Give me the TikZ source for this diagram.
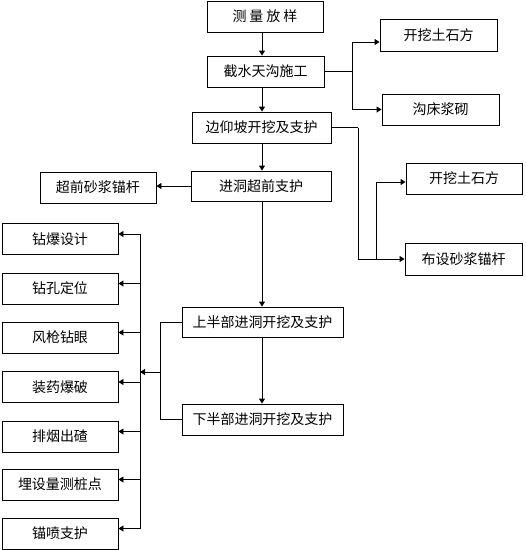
\documentclass[tikz,border=0pt]{standalone}
\usepackage{fontspec}
\setmainfont{Noto Sans CJK SC}
\usetikzlibrary{arrows.meta,calc}
\begin{document}
\begin{tikzpicture}[x=1pt,y=-1pt,
  box/.style={draw=black,line width=0.9pt,inner sep=0pt,align=center,
    font=\fontsize{14}{16}\selectfont},
  conn/.style={draw=black,line width=0.9pt},
  arr/.style={conn,-{Triangle[length=5pt,width=6pt]}}]
\useasboundingbox (0,0) rectangle (526,550);
\fill[white] (0,0) rectangle (526,550);
% main column
\node[box,minimum width=116pt,minimum height=31pt] (a) at (265,16.5) {测\hspace{3pt}量\hspace{3pt}放\hspace{3pt}样};
\node[box,minimum width=117pt,minimum height=31pt] (b) at (265.5,71.5) {截水天沟施工};
\node[box,minimum width=117pt,minimum height=32pt] (c) at (438.5,35) {开挖土石方};
\node[box,minimum width=117pt,minimum height=31pt] (d) at (440.5,109.5) {沟床浆砌};
\node[box,minimum width=139pt,minimum height=31pt] (e) at (261.5,127.5) {边仰坡开挖及支护};
\node[box,minimum width=140pt,minimum height=30pt] (f) at (261,186) {进洞超前支护};
\node[box,minimum width=116pt,minimum height=31pt] (g) at (98,187.5) {超前砂浆锚杆};
\node[box,minimum width=116pt,minimum height=31pt] (h) at (464,178.5) {开挖土石方};
\node[box,minimum width=117pt,minimum height=32pt] (i) at (463.5,259) {布设砂浆锚杆};
\node[box,minimum width=161pt,minimum height=30pt] (j) at (262.5,322) {上半部进洞开挖及支护};
\node[box,minimum width=161pt,minimum height=31pt] (k) at (262.5,419.5) {下半部进洞开挖及支护};
% left column
\node[box,minimum width=116pt,minimum height=31pt] (L1) at (60,239) {钻爆设计};
\node[box,minimum width=116pt,minimum height=31pt] (L2) at (60,288.5) {钻孔定位};
\node[box,minimum width=116pt,minimum height=31pt] (L3) at (60,337.5) {风枪钻眼};
\node[box,minimum width=116pt,minimum height=31pt] (L4) at (60,387) {装药爆破};
\node[box,minimum width=116pt,minimum height=31pt] (L5) at (60,436.5) {排烟出碴};
\node[box,minimum width=116pt,minimum height=31pt] (L6) at (60,484.5) {埋设量测桩点};
\node[box,minimum width=116pt,minimum height=31pt] (L7) at (60,533.5) {锚喷支护};
% coordinates
\coordinate (ax) at (262,0);
\coordinate (bj) at (352,71.5);
\coordinate (eR) at (358,127.5);
\coordinate (ebr) at (376,259);
\coordinate (jk) at (160,372);
\coordinate (lv) at (140,372);
% main arrows
\draw[arr] (a.south -| ax) -- (b.north -| ax);
\draw[arr] (b.south -| ax) -- (e.north -| ax);
\draw[arr] (e.south -| ax) -- (f.north -| ax);
\draw[arr] (f.south -| ax) -- (j.north -| ax);
\draw[arr] (j.south -| ax) -- (k.north -| ax);
% ditch branch
\draw[conn] (b.east) -- (bj);
\draw[arr] (bj) |- ([yshift=-7pt]c.west);
\draw[arr] (bj) |- (d.west);
% slope branch
\draw[conn] (e.east) -- (eR);
\draw[arr] (eR) |- (i.west);
\draw[arr] (ebr) |- ([yshift=-3.5pt]h.west);
% advance support
\draw[arr] (f.west) -- (f.west -| g.east);
% excavation to left column
\draw[conn] (j.west) -| (jk);
\draw[conn] (k.west) -| (jk);
\draw[arr] (jk) -- (lv);
\foreach \n in {1,...,7}{
  \coordinate (p\n) at ($(L\n.east)+(0,-5)$);
  \draw[arr] (p\n -| lv) -- (p\n);
}
\draw[conn] (p1 -| lv) -- (p7 -| lv);
\end{tikzpicture}
\end{document}
